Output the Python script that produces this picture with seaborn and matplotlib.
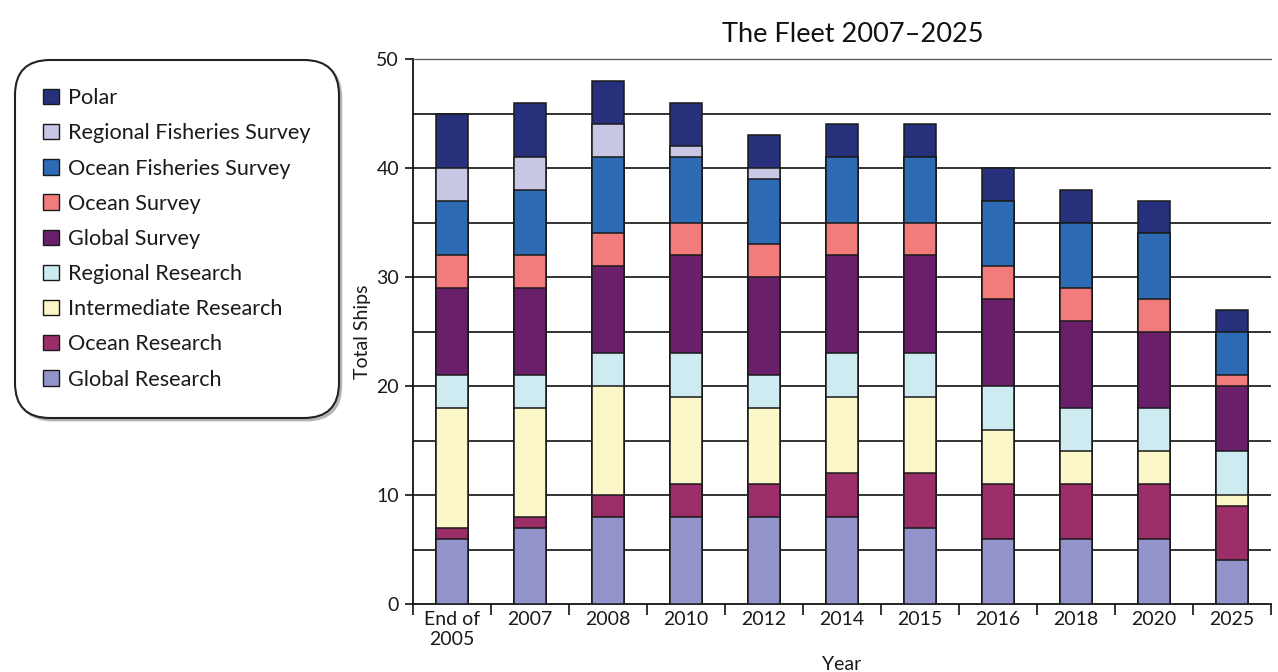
import matplotlib
matplotlib.use("Agg")
import matplotlib.pyplot as plt
import matplotlib.patches as mpatches
import numpy as np
import pandas as pd
import seaborn as sns

years = ["End of\n2005", "2007", "2008", "2010", "2012", "2014", "2015", "2016", "2018", "2020", "2025"]

global_research = [6, 7, 8, 8, 8, 8, 7, 6, 6, 6, 4]
ocean_research = [1, 1, 2, 3, 3, 4, 5, 5, 5, 5, 5]
intermediate_research = [11, 10, 10, 8, 7, 7, 7, 5, 3, 3, 1]
regional_research = [3, 3, 3, 4, 3, 4, 4, 4, 4, 4, 4]
global_survey = [8, 8, 8, 9, 9, 9, 9, 8, 8, 7, 6]
ocean_survey = [3, 3, 3, 3, 3, 3, 3, 3, 3, 3, 1]
ocean_fisheries_survey = [5, 6, 7, 6, 6, 6, 6, 6, 6, 6, 4]
regional_fisheries_survey = [3, 3, 3, 1, 1, 0, 0, 0, 0, 0, 0]
polar = [5, 5, 4, 4, 3, 3, 3, 3, 3, 3, 2]

series_names = ["Global Research", "Ocean Research", "Intermediate Research",
                "Regional Research", "Global Survey", "Ocean Survey",
                "Ocean Fisheries Survey", "Regional Fisheries Survey", "Polar"]
series_values = [global_research, ocean_research, intermediate_research,
                 regional_research, global_survey, ocean_survey,
                 ocean_fisheries_survey, regional_fisheries_survey, polar]
colors = ["#9494cc", "#9b2e68", "#fbf7c9", "#cdebf1", "#691f69", "#f27c7c",
          "#2d6cb5", "#c9c8e4", "#27307a"]

sns.set_theme(style="white")
plt.rcParams["font.family"] = ["Lato", "DejaVu Sans"]

fig = plt.figure(figsize=(12.78, 6.72), dpi=100)
ax = fig.add_axes([413 / 1278, 1 - 604 / 672, (1271 - 413) / 1278, (604 - 59) / 672])

cum = np.cumsum(np.array(series_values), axis=0)
df_rows = []
for i, name in enumerate(series_names):
    for j, y in enumerate(years):
        df_rows.append({"Year": y, "series": name, "top": cum[i, j]})
df = pd.DataFrame(df_rows)

for i in range(len(series_names) - 1, -1, -1):
    sub = df[df["series"] == series_names[i]]
    sns.barplot(data=sub, x="Year", y="top", order=years, color=colors[i],
                width=0.41, edgecolor="#1a1a1a", linewidth=1.1, ax=ax,
                saturation=1, zorder=3)

ax.set_ylim(0, 50)
ax.set_xlim(-0.5, len(years) - 0.5)
ax.set_yticks([0, 10, 20, 30, 40, 50])
for yv in range(5, 50, 5):
    ax.axhline(yv, color="#111111", linewidth=1.2, zorder=1)

ax.set_xticks(np.arange(len(years)))
ax.set_xticklabels(years, fontsize=14, color="#1a1a1a")
ax.set_xticks(np.arange(len(years) + 1) - 0.5, minor=True)
ax.tick_params(axis="x", which="major", length=0, pad=5)
ax.tick_params(axis="x", which="minor", length=8, width=1.2, color="#111111", direction="out", bottom=True)
ax.tick_params(axis="y", which="major", length=6, width=1.2, color="#111111", direction="out",
               left=True, labelsize=14, labelcolor="#1a1a1a", pad=4)

for s in ["left", "bottom", "top"]:
    ax.spines[s].set_color("#111111")
    ax.spines[s].set_linewidth(1.3)
ax.spines["top"].set_color("#555555")
ax.spines["top"].set_linewidth(0.9)
ax.spines["right"].set_visible(False)

ax.set_xlabel("Year", fontsize=14, labelpad=6, color="#1a1a1a")
ax.set_ylabel("Total Ships", fontsize=14, labelpad=4, color="#1a1a1a")
ax.set_title("The Fleet 2007\u20132025", fontsize=19.5, pad=12, color="#111111",
             x=(853 - 413) / (1271 - 413))

handles = [mpatches.Patch(facecolor=colors[i], edgecolor="#1a1a1a", linewidth=1.0,
                          label=series_names[i]) for i in range(len(series_names) - 1, -1, -1)]
leg = fig.legend(handles=handles, loc="upper left", bbox_to_anchor=(15 / 1278, 1 - 60 / 672),
                 fontsize=15.6, frameon=True, fancybox=True, shadow={"color": "#999999", "alpha": 0.6},
                 handlelength=0.72, handleheight=0.72, handletextpad=0.42,
                 labelspacing=0.7, borderpad=1.3, borderaxespad=0, labelcolor="#1a1a1a")
frame = leg.get_frame()
frame.set_edgecolor("#222222")
frame.set_linewidth(1.5)
frame.set_boxstyle("round,pad=0,rounding_size=1.6")

fig.savefig("out.png", dpi=100)
